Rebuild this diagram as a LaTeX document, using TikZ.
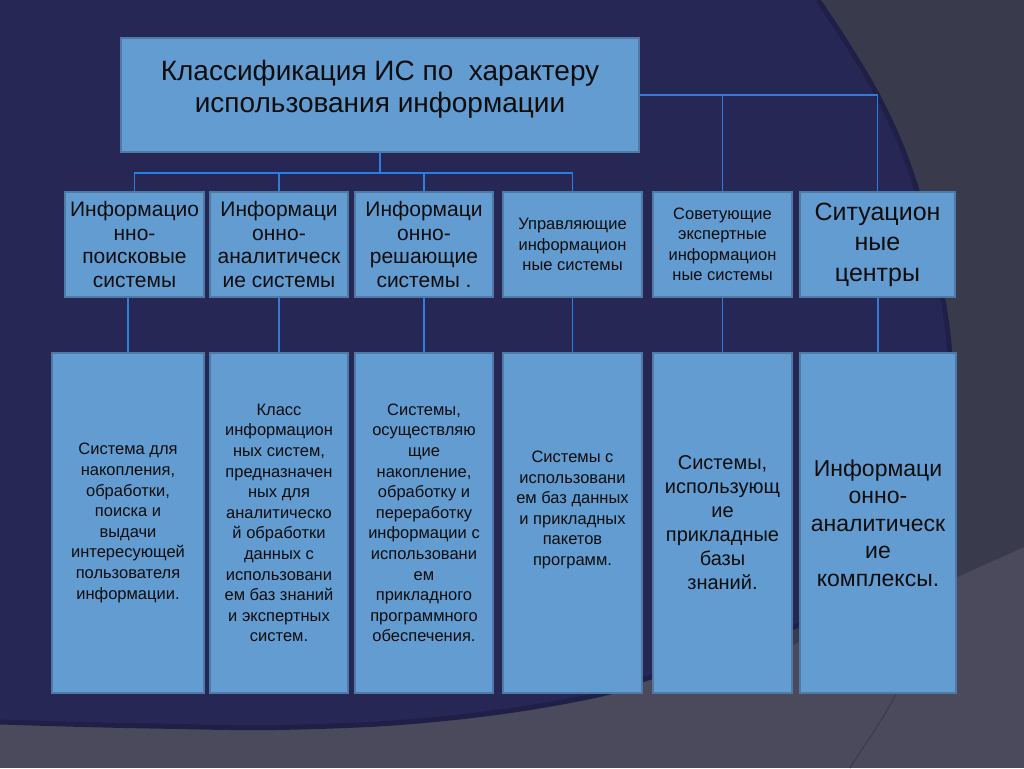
\documentclass[tikz,border=0pt]{standalone}
\usepackage{fontspec}
\setmainfont{Liberation Sans}
\definecolor{navy}{HTML}{262755}
\definecolor{navyedge}{HTML}{1F2048}
\definecolor{darkgrey}{HTML}{3A3A4D}
\definecolor{lightgrey}{HTML}{4A4A5C}
\definecolor{curvecol}{HTML}{3C3C4E}
\definecolor{boxfill}{HTML}{629CD1}
\definecolor{boxedge}{HTML}{4F7AA5}
\definecolor{conncol}{HTML}{2B7DE0}
\definecolor{textcol}{HTML}{0D0D0D}
\begin{document}
\begin{tikzpicture}[x=1pt,y=-1pt,
  box/.style={draw=boxedge, line width=1.8pt, fill=boxfill, inner sep=0pt, align=center, text=textcol},
  conn/.style={draw=conncol, line width=1.6pt},
  titlefont/.style={font=\fontsize{28}{32}\selectfont},
  midfont/.style={font=\fontsize{21}{23.5}\selectfont},
  smallfont/.style={font=\fontsize{16.5}{20.5}\selectfont},
  bigfont/.style={font=\fontsize{25}{30.5}\selectfont},
  descfont/.style={font=\fontsize{16.5}{20.6}\selectfont},
  descbig/.style={font=\fontsize{20}{24}\selectfont},
  deschuge/.style={font=\fontsize{23}{27.5}\selectfont},
  midbox/.style={box, minimum height=105pt},
  lowbox/.style={box, minimum height=340pt}]
\useasboundingbox (0,0) rectangle (1024,768);
% background
\fill[lightgrey] (0,0) rectangle (1024,768);
\fill[darkgrey] (700,0) -- (1024,0) -- (1024,547) -- (957,577) -- (780,650) -- (700,650) -- cycle;
\draw[curvecol, line width=1.2pt] (897,692) .. controls (880,725) and (862,748) .. (850,768);
\fill[navy] (0,0) -- plot[smooth, tension=0.7] coordinates {(818,0) (880,100) (920,200) (943,300) (951,380) (948,450) (928,520) (880,583) (796,626) (720,655) (648,678) (588,697) (450,718) (300,727) (150,726) (0,722)} -- cycle;
\draw[navyedge, line width=5pt] plot[smooth, tension=0.7] coordinates {(818,0) (880,100) (920,200) (943,300) (951,380) (948,450) (928,520) (880,583) (796,626) (720,655) (648,678) (588,697) (450,718) (300,727) (150,726) (0,722)};
% top box
\node[box, minimum width=518pt, minimum height=114pt] (top) at (380,95) {};
\node[titlefont, text=textcol, align=center] (toptext) at (380,89) {Классификация ИС по\ \ характеру\\использования информации};
% middle row
\node[midbox, midfont, minimum width=139pt] (m1) at (134.5,244.5) {Информацио\\нно-\\поисковые\\системы};
\node[midbox, midfont, minimum width=138pt] (m2) at (279,244.5) {Информаци\\онно-\\аналитическ\\ие системы};
\node[midbox, midfont, minimum width=138pt] (m3) at (424,244.5) {Информаци\\онно-\\решающие\\системы .};
\node[midbox, smallfont, minimum width=139pt] (m4) at (572.5,244.5) {Управляющие\\информацион\\ные системы};
\node[midbox, smallfont, minimum width=139pt] (m5) at (722.5,244.5) {Советующие\\экспертные\\информацион\\ные системы};
\node[midbox, bigfont, minimum width=155pt] (m6) at (877.5,244.5) {Ситуацион\\ные\\центры};
% bottom row
\node[lowbox, descfont, minimum width=152pt] (b1) at (128,523) {Система для\\накопления,\\обработки,\\поиска и\\выдачи\\интересующей\\пользователя\\информации.};
\node[lowbox, descfont, minimum width=138pt] (b2) at (279,523) {Класс\\информацион\\ных систем,\\предназначен\\ных для\\аналитическо\\й обработки\\данных с\\использовани\\ем баз знаний\\и экспертных\\систем.};
\node[lowbox, descfont, minimum width=138pt] (b3) at (424,523) {Системы,\\осуществляю\\щие\\накопление,\\обработку и\\переработку\\информации с\\использовани\\ем\\прикладного\\программного\\обеспечения.};
\node[lowbox, minimum width=139pt] (b4) at (572.5,523) {};
\node[descfont, text=textcol, align=center] (b4text) at (572.5,510) {Системы с\\использовани\\ем баз данных\\и прикладных\\пакетов\\программ.};
\node[lowbox, descbig, minimum width=139pt] (b5) at (722.5,523) {Системы,\\использующ\\ие\\прикладные\\базы\\знаний.};
\node[lowbox, deschuge, minimum width=156pt] (b6) at (878,523) {Информаци\\онно-\\аналитическ\\ие\\комплексы.};
% connectors
\draw[conn] (top.south) -- ++(0,20) -| (m1.north);
\draw[conn] (top.south) -- ++(0,20) -| (m2.north);
\draw[conn] (top.south) -- ++(0,20) -| (m3.north);
\draw[conn] (top.south) -- ++(0,20) -| (m4.north);
\draw[conn] (top.east) -| (m5.north);
\draw[conn] (top.east) -| (m6.north);
\draw[conn] (m1.south -| b1.north) -- (b1.north);
\draw[conn] (m2.south) -- (b2.north);
\draw[conn] (m3.south) -- (b3.north);
\draw[conn] (m4.south) -- (b4.north);
\draw[conn] (m5.south) -- (b5.north);
\draw[conn] (m6.south -| b6.north) -- (b6.north);
\end{tikzpicture}
\end{document}
